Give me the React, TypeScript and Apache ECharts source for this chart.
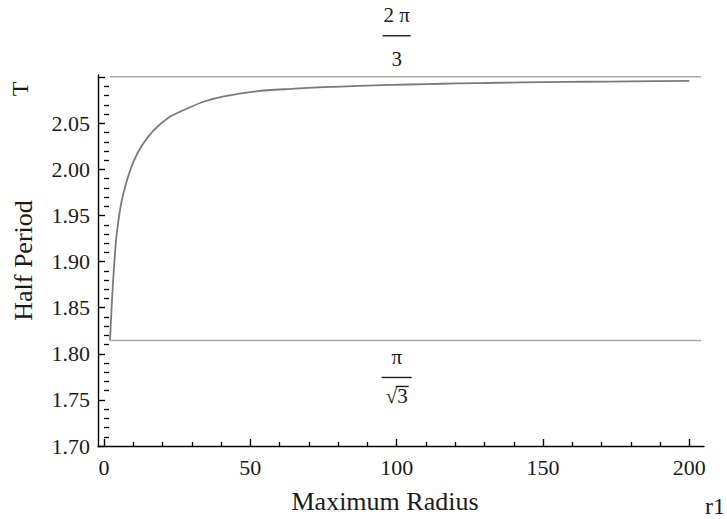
import React, { useEffect, useRef } from "react";
import * as echarts from "echarts";

// Curve: half period T versus maximum radius r1
const radius = [2.05, 2.39, 2.85, 3.42, 4.1, 4.9, 6.0, 7.7, 10.0, 12.9, 16.8, 22.0, 27.7, 34.5, 41.0, 52.0, 64.0, 75.0, 87.0, 98.0, 110.0, 121.0, 135.0, 150.0, 165.0, 180.0, 200.0];
const halfPeriod = [1.8145, 1.8367, 1.8652, 1.8938, 1.9224, 1.9438, 1.9652, 1.9866, 2.008, 2.0258, 2.0419, 2.0562, 2.0651, 2.074, 2.0793, 2.0848, 2.0875, 2.0893, 2.0906, 2.0917, 2.0926, 2.0934, 2.0941, 2.0947, 2.0952, 2.0956, 2.0961];

// Limiting values (horizontal reference lines)
const lowerLimit = 1.8145; // π/√3
const upperLimit = 2.1006; // 2π/3 as drawn
const limitStart = 2.05;
const limitEnd = 204;
const labelAt = 100;

// Axes
const xMin = -2.05;
const xMax = 205;
const yMin = 1.7;
const yMax = 2.1025;
const xMajorTicks = [0, 50, 100, 150, 200];
const yMajorTicks = [1.7, 1.75, 1.8, 1.85, 1.9, 1.95, 2.0, 2.05, 2.1];
const yLabelTicks = [1.7, 1.75, 1.8, 1.85, 1.9, 1.95, 2.0, 2.05];

const xMinorTicks: number[] = [];
for (let i = 0; i <= 200; i += 10) if (i % 50 !== 0) xMinorTicks.push(i);
const yMinorTicks: number[] = [];
for (let i = 170; i <= 210; i += 1) if (i % 5 !== 0) yMinorTicks.push(i / 100);

const FONT = "'Liberation Serif', 'Times New Roman', Times, 'DejaVu Serif', serif";

export default function App() {
  const ref = useRef<HTMLDivElement>(null);
  useEffect(() => {
    if (!ref.current) return;
    const chart = echarts.init(ref.current, null, { renderer: "svg" });
    const axisLine = { show: true, onZero: false, lineStyle: { color: "#000", width: 1.4 } };
    const option: any = {
      animation: false,
      backgroundColor: "#fff",
      grid: { left: 98, right: 23, top: 75, bottom: 68, containLabel: false },
      xAxis: [
        {
          type: "value", min: xMin, max: xMax, position: "bottom",
          axisLine,
          splitLine: { show: false },
          axisTick: { show: true, inside: true, length: 7, customValues: xMajorTicks, lineStyle: { color: "#000", width: 1.4 } },
          axisLabel: { customValues: xMajorTicks, margin: 10, color: "#1a1a1a", fontFamily: FONT, fontSize: 22 },
          name: "Maximum Radius",
          nameLocation: "middle",
          nameGap: 42,
          nameTextStyle: { color: "#1a1a1a", fontFamily: FONT, fontSize: 26, padding: [0, 32, 0, 0] },
        },
        {
          type: "value", min: xMin, max: xMax, position: "bottom", offset: 0,
          axisLine: { show: false },
          splitLine: { show: false },
          axisTick: { show: true, inside: true, length: 4, customValues: xMinorTicks, lineStyle: { color: "#000", width: 1.3 } },
          axisLabel: { show: false },
        },
      ],
      yAxis: [
        {
          type: "value", min: yMin, max: yMax, position: "left",
          axisLine,
          splitLine: { show: false },
          axisTick: { show: true, inside: true, length: 7, customValues: yMajorTicks, lineStyle: { color: "#000", width: 1.4 } },
          axisLabel: { customValues: yLabelTicks, margin: 8, color: "#1a1a1a", fontFamily: FONT, fontSize: 22, formatter: (v: number) => v.toFixed(2) },
          name: "Half Period",
          nameLocation: "middle",
          nameGap: 62,
          nameRotate: 90,
          nameTextStyle: { color: "#1a1a1a", fontFamily: FONT, fontSize: 26 },
        },
        {
          type: "value", min: yMin, max: yMax, position: "left", offset: 0,
          axisLine: { show: false },
          splitLine: { show: false },
          axisTick: { show: true, inside: true, length: 5, customValues: yMinorTicks, lineStyle: { color: "#000", width: 1.3 } },
          axisLabel: { show: false },
        },
      ],
      series: [
        {
          type: "line",
          data: radius.map((r, i) => [r, halfPeriod[i]]),
          showSymbol: false,
          smooth: 0.3,
          lineStyle: { color: "#7a7a7a", width: 1.8 },
          z: 3,
        },
        {
          type: "line",
          data: [[limitStart, upperLimit], [limitEnd, upperLimit]],
          showSymbol: false,
          lineStyle: { color: "#a8a8a8", width: 1.6 },
        },
        {
          type: "line",
          data: [[limitStart, lowerLimit], [limitEnd, lowerLimit]],
          showSymbol: false,
          lineStyle: { color: "#a8a8a8", width: 1.6 },
        },
      ],
    };
    chart.setOption(option);

    const top = chart.convertToPixel({ xAxisIndex: 0, yAxisIndex: 0 }, [labelAt, upperLimit]) as number[];
    const low = chart.convertToPixel({ xAxisIndex: 0, yAxisIndex: 0 }, [labelAt, lowerLimit]) as number[];
    const endX = chart.convertToPixel({ xAxisIndex: 0 }, xMax) as number;
    const topY = chart.convertToPixel({ yAxisIndex: 0 }, yMax) as number;
    const txt = (text: string, x: number, y: number, size = 20, extra: any = {}) => ({
      type: "text", x, y,
      style: { text, fill: "#1a1a1a", fontFamily: FONT, fontSize: size, align: "center", verticalAlign: "middle", ...extra },
    });
    const ln = (x1: number, y1: number, x2: number, y2: number) => ({
      type: "line", shape: { x1, y1, x2, y2 }, style: { stroke: "#1a1a1a", lineWidth: 1.4 },
    });
    chart.setOption({
      graphic: [
        {
          type: "group", x: top[0], y: top[1],
          children: [
            txt("2 π", 0, -62, 21),
            ln(-14, -41, 14, -41),
            txt("3", 0, -18, 21),
          ],
        },
        {
          type: "group", x: low[0], y: low[1],
          children: [
            txt("π", 0, 17, 21),
            ln(-15, 37, 15, 37),
            txt("√3", 0, 56, 21),
            ln(-1, 46, 12, 46),
          ],
        },
        txt("r1", endX + 11, 506, 24),
        { ...txt("T", 20, topY + 14, 24), rotation: Math.PI / 2 },
      ],
    });
    return () => chart.dispose();
  }, []);
  return <div ref={ref} style={{ position: "fixed", left: 0, top: 0, width: 727, height: 519 }} />;
}
